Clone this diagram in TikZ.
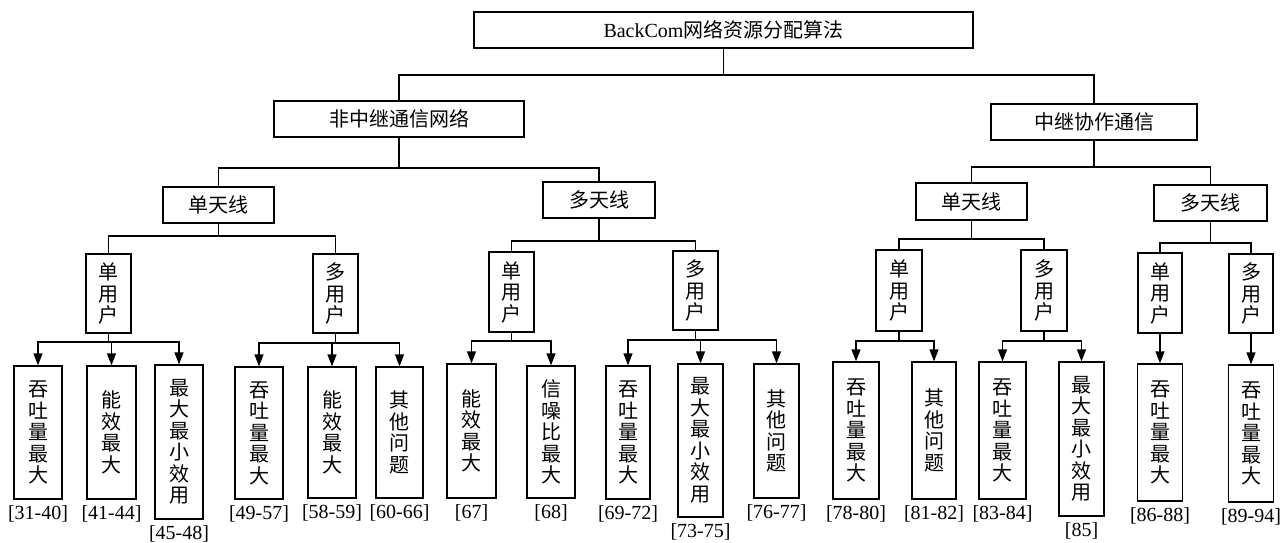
\documentclass[tikz,border=0pt]{standalone}
\usepackage{fontspec}
\setmainfont{Liberation Serif}
\newfontfamily\cjk{Noto Sans CJK SC}
\usetikzlibrary{arrows.meta}
\tikzset{
  box/.style={draw, line width=1.3pt, inner sep=0pt, align=center,
    font=\cjk\fontsize{20}{21.5}\selectfont},
  conn/.style={line width=1.3pt},
  arr/.style={line width=1.3pt, -{Triangle[length=12pt,width=9pt]}},
  lbl/.style={inner sep=0pt, font=\fontsize{20}{22}\selectfont},
}
\newcommand\bx[6]{\node[box, minimum width=#4pt, minimum height=#5pt] (#1) at (#2,#3) {#6};}
\newcommand\leaf[7]{\node[box, minimum width=#4pt, minimum height=#5pt] (#1) at (#2,#3) {#6};
  \node[lbl] (#1t) at ([yshift=-14.5pt]#1.south) {#7};}
\begin{document}
\begin{tikzpicture}[x=1pt,y=-1pt]
\useasboundingbox (0,0) rectangle (1288,542);
% level 0-2
\bx{root}{723.5}{30}{499}{36}{{\rmfamily BackCom}网络资源分配算法}
\bx{nr}{399}{119}{250}{36}{非中继通信网络}
\bx{rl}{1094}{122}{206}{36}{中继协作通信}
\bx{a1}{218.5}{205}{111}{36}{单天线}
\bx{a2}{599}{200}{112}{36}{多天线}
\bx{a3}{971.5}{201.5}{111}{37}{单天线}
\bx{a4}{1210.5}{203}{113}{36}{多天线}
% user level
\bx{u1}{108.5}{293.5}{45}{79}{单\\用\\户}
\bx{u2}{335.5}{293.5}{45}{79}{多\\用\\户}
\bx{u3}{511.5}{292}{45}{80}{单\\用\\户}
\bx{u4}{695.5}{290.5}{45}{79}{多\\用\\户}
\bx{u5}{899}{290.5}{46}{81}{单\\用\\户}
\bx{u6}{1044}{290.5}{46}{81}{多\\用\\户}
\bx{u7}{1160}{293}{44}{80}{单\\用\\户}
\bx{u8}{1251}{293.5}{44}{79}{多\\用\\户}
% leaves
\leaf{l1}{38}{432.5}{48}{133}{吞\\吐\\量\\最\\大}{[31-40]}
\leaf{l2}{111.5}{432.5}{49}{133}{能\\效\\最\\大}{[41-44]}
\leaf{l3}{179}{442}{48}{154}{最\\大\\最\\小\\效\\用}{[45-48]}
\leaf{l4}{259}{433}{48}{132}{吞\\吐\\量\\最\\大}{[49-57]}
\leaf{l5}{332}{432.5}{48}{131}{能\\效\\最\\大}{[58-59]}
\leaf{l6}{399.5}{432.5}{47}{131}{其\\他\\问\\题}{[60-66]}
\leaf{l7}{471.5}{431}{49}{134}{能\\效\\最\\大}{[67]}
\leaf{l8}{551}{432}{48}{132}{信\\噪\\比\\最\\大}{[68]}
\leaf{l9}{628}{432.5}{44}{133}{吞\\吐\\量\\最\\大}{[69-72]}
\leaf{l10}{700.5}{440.5}{45}{153}{最\\大\\最\\小\\效\\用}{[73-75]}
\leaf{l11}{776.5}{431}{45}{134}{其\\他\\问\\题}{[76-77]}
\leaf{l12}{856}{430.5}{46}{137}{吞\\吐\\量\\最\\大}{[78-80]}
\leaf{l13}{934}{430.5}{44}{137}{其\\他\\问\\题}{[81-82]}
\leaf{l14}{1002.5}{430.5}{47}{137}{吞\\吐\\量\\最\\大}{[83-84]}
\leaf{l15}{1081.5}{439}{45}{154}{最\\大\\最\\小\\效\\用}{[85]}
\leaf{l16}{1160}{432.5}{45}{137}{吞\\吐\\量\\最\\大}{[86-88]}
\leaf{l17}{1251}{433.5}{45}{137}{吞\\吐\\量\\最\\大}{[89-94]}
% connectors
\draw[conn] (root.south) -- (root.south |- 0,75) -| (nr.north);
\draw[conn] (root.south) -- (root.south |- 0,75) -| (rl.north);
\draw[conn] (nr.south) -- (nr.south |- 0,168) -| (a1.north);
\draw[conn] (nr.south) -- (nr.south |- 0,168) -| (a2.north);
\draw[conn] (rl.south) -- (rl.south |- 0,167) -| (a3.north);
\draw[conn] (rl.south) -- (rl.south |- 0,167) -| (a4.north);
\draw[conn] (a1.south) -- (a1.south |- 0,236) -| (u1.north);
\draw[conn] (a1.south) -- (a1.south |- 0,236) -| (u2.north);
\draw[conn] (a2.south) -- (a2.south |- 0,241) -| (u3.north);
\draw[conn] (a2.south) -- (a2.south |- 0,241) -| (u4.north);
\draw[conn] (a3.south) -- (a3.south |- 0,239) -| (u5.north);
\draw[conn] (a3.south) -- (a3.south |- 0,239) -| (u6.north);
\draw[conn] (a4.south) -- (a4.south |- 0,243) -| (u7.north);
\draw[conn] (a4.south) -- (a4.south |- 0,243) -| (u8.north);
% arrows to leaves
\foreach \p/\c/\y in {u1/l1/342, u1/l2/342, u1/l3/342,
  u2/l4/343, u2/l5/343, u2/l6/343,
  u3/l7/341, u3/l8/341,
  u4/l9/340, u4/l10/340, u4/l11/340,
  u5/l12/341, u5/l13/341,
  u6/l14/341, u6/l15/341}
  \draw[arr] (\p.south) -- (\p.south |- 0,\y) -| (\c.north);
\draw[arr] (u7.south) -- (l16.north);
\draw[arr] (u8.south) -- (l17.north);
\end{tikzpicture}
\end{document}
